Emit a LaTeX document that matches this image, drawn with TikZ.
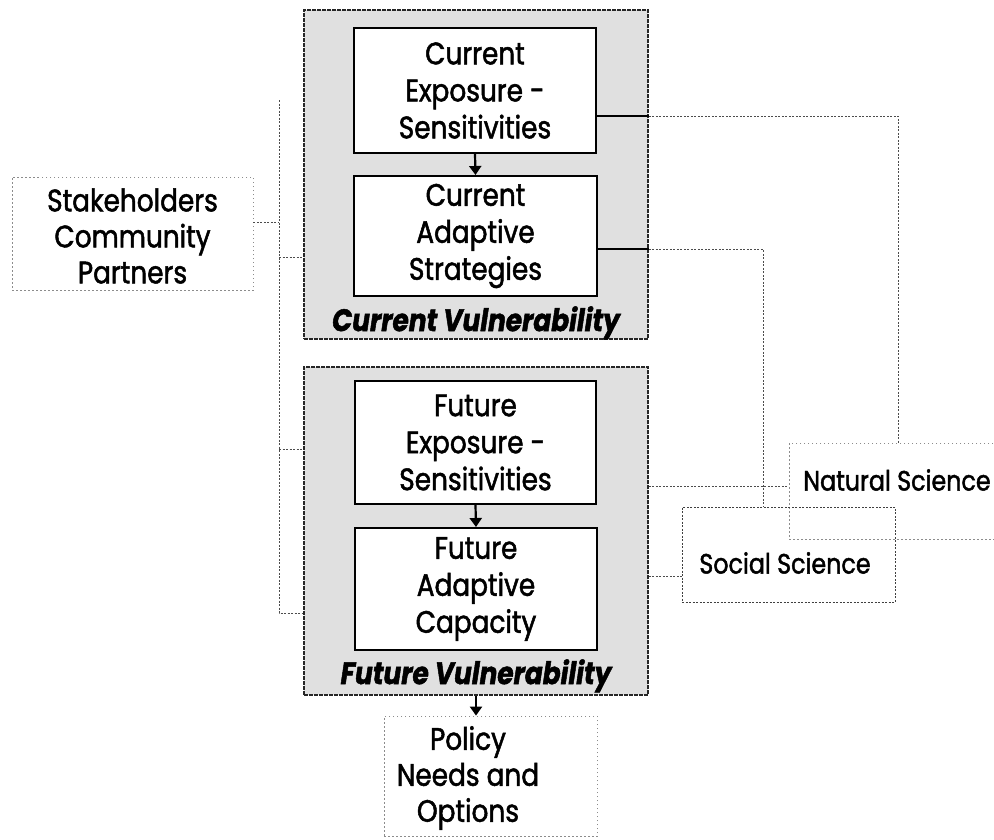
\documentclass[tikz,border=0pt]{standalone}
\usepackage{fontspec}
\setmainfont{Poppins}[FakeStretch=0.85, FakeBold=1.6]
\usetikzlibrary{arrows.meta,calc}
\begin{document}
\begin{tikzpicture}[x=1pt,y=-1pt,
  outerbox/.style={draw=black!85, line width=1.6pt, dash pattern=on 4pt off 1pt, fill=black!12, inner sep=0pt, minimum width=344pt},
  innerbox/.style={draw=black, line width=2pt, fill=white, inner sep=0pt, align=center, font=\fontsize{31}{37}\selectfont},
  lightbox/.style={draw=black!45, line width=0.8pt, dash pattern=on 1.5pt off 2.5pt, inner sep=0pt},
  dotbox/.style={draw=black!75, line width=0.8pt, dash pattern=on 2pt off 1.5pt, inner sep=0pt},
  txt/.style={align=center, font=\fontsize{31}{36}\selectfont, inner sep=0pt},
  vuln/.style={font=\fontsize{31}{34}\selectfont\bfseries\itshape, inner sep=0pt},
  conn/.style={draw=black!70, line width=0.8pt, dash pattern=on 2pt off 1.5pt},
  thickconn/.style={draw=black, line width=2.2pt},
  arr/.style={draw=black, line width=2.2pt, -{Triangle[length=9pt,width=12pt]}}
]
\useasboundingbox (0,0) rectangle (994,839);
% outer boxes
\node[outerbox, minimum height=329pt] (curV) at (476,174.5) {};
\node[outerbox, minimum height=328pt] (futV) at (476,531) {};
% inner boxes
\node[innerbox, minimum width=242pt, minimum height=125pt] (CE) at (475,90.5) {Current\\ Exposure -\\ Sensitivities};
\node[innerbox, minimum width=243pt, minimum height=120pt] (CA) at (475.5,236) {Current\\ Adaptive\\ Strategies};
\node[innerbox, minimum width=241pt, minimum height=123pt] (FE) at (475.5,442.5) {Future\\ Exposure -\\ Sensitivities};
\node[innerbox, minimum width=242pt, minimum height=122pt] (FA) at (476,589) {Future\\ Adaptive\\ Capacity};
% vulnerability labels
\node[vuln] (curL) at ([yshift=17pt]curV.south) {Current Vulnerability};
\node[vuln] (futL) at ([yshift=20pt]futV.south) {Future Vulnerability};
% other boxes
\node[lightbox, minimum width=241pt, minimum height=113pt] (stk) at (132.5,233.5) {};
\node[txt] (stkT) at (132.5,236) {Stakeholders\\ Community\\ Partners};
\node[lightbox, minimum width=213pt, minimum height=120pt] (policy) at (490.5,776) {};
\node[txt] (polT) at (468,778) {Policy\\ Needs and\\ Options};
\node[lightbox, minimum width=218pt, minimum height=96pt] (NS) at (898,491) {};
\node[txt, font=\fontsize{28}{32}\selectfont] (NST) at (897,480) {Natural Science};
\node[dotbox, minimum width=213pt, minimum height=95pt] (SS) at (788.5,554.5) {};
\node[txt, font=\fontsize{28}{32}\selectfont] (SST) at (785,563) {Social Science};
% arrows
\draw[arr] (CE.south) -- (CA.north);
\draw[arr] (FE.south) -- (FA.north);
\draw[arr] (futV.south) -- (futV.south |- policy.north);
% right connectors
\coordinate (ceR) at ([yshift=-25.5pt]CE.east);
\coordinate (caR) at ([yshift=-13pt]CA.east);
\coordinate (feR) at ([yshift=-43.5pt]FE.east);
\coordinate (faR) at ([yshift=13pt]FA.east);
\coordinate (ssTop) at ([xshift=-25.5pt]SS.north);
\draw[thickconn] (ceR) -- (ceR -| curV.east);
\draw[thickconn] (caR) -- (caR -| curV.east);
\draw[conn] (ceR -| curV.east) -- (ceR -| NS.north) -- (NS.north);
\draw[conn] (caR -| curV.east) -- (caR -| ssTop) -- (ssTop);
\draw[conn] (feR -| futV.east) -- (feR -| NS.west);
\draw[conn] (faR -| futV.east) -- (faR -| SS.west);
% left connectors
\coordinate (busT) at (279,100);
\coordinate (busB) at ([xshift=-25pt,yshift=-82pt]futV.west);
\coordinate (stkR) at ([yshift=11.5pt]stk.east);
\coordinate (cvL) at ([yshift=-82.5pt]curV.west);
\coordinate (fvL1) at ([yshift=82pt]futV.west);
\coordinate (fvL2) at ([yshift=-82pt]futV.west);
\draw[conn] (busT) -- (busT |- busB) -- (fvL2);
\draw[conn] (stkR) -- (stkR -| busT);
\draw[conn] (cvL -| busT) -- (cvL);
\draw[conn] (fvL1 -| busT) -- (fvL1);
\end{tikzpicture}
\end{document}
